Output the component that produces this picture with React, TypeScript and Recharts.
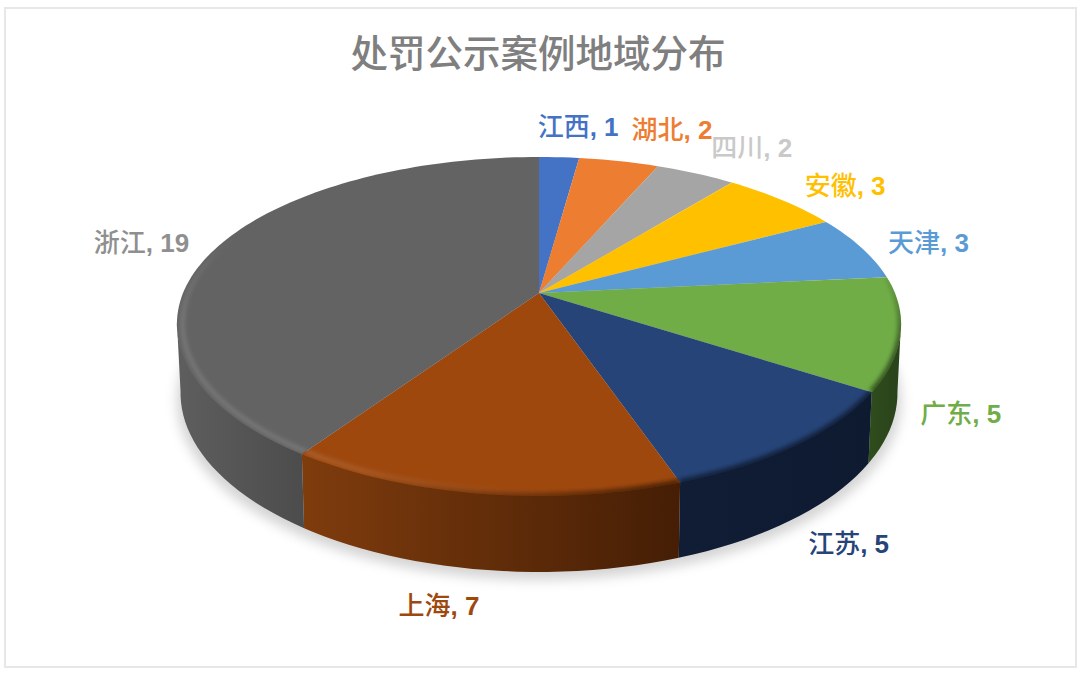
import React from "react";
import { PieChart, Pie } from "recharts";

const provinces = ["江西", "湖北", "四川", "安徽", "天津", "广东", "江苏", "上海", "浙江"];
const cases = [1, 2, 2, 3, 3, 5, 5, 7, 19];
const topColors = ["#4472c4", "#ed7d31", "#a5a5a5", "#ffc000", "#5b9bd5", "#70ad47", "#264478", "#9e480e", "#636363"];
const labelColors = ["#4472c4", "#ed7d31", "#c9c9c9", "#ffc000", "#5b9bd5", "#70ad47", "#264478", "#9e480e", "#8f8f8f"];
const wallFrom = ["#2a4a80", "#9a5020", "#6a6a6a", "#a57c00", "#3b6488", "#2f4d1d", "#101d35", "#7f3c0d", "#5e5e5e"];
const wallTo = ["#2a4a80", "#9a5020", "#6a6a6a", "#a57c00", "#3b6488", "#29421a", "#0d1a30", "#451e05", "#4c4c4c"];
const labelNudgeX = [19, 53, 56, 63, 67, 60, 52, -42, -75];
const labelNudgeY = [-30, -31, -25, -14, -5, 82, 104, 118, -5];

const chartData = provinces.map((name, i) => ({ name, value: cases[i] }));

const PERSPECTIVE = 0.183;
const FLATTEN = 0.452;
const DEPTH = 67;
const BEVEL = 6;
const FONT = '"Liberation Sans", "Noto Sans CJK SC", sans-serif';

// t: degrees clockwise from 12 o'clock. Maps the flat pie circle to the tilted disc.
function project(cx: number, cy: number, R: number, t: number, r = 1) {
  const a = (t * Math.PI) / 180;
  const u = Math.sin(a) * r;
  const w = Math.cos(a) * r;
  const den = 1 + PERSPECTIVE * w;
  return { x: cx + (R * u) / den, y: cy - (R * FLATTEN * w) / den, den };
}
// The rounded front edge of the top face reaches a little lower than the flat disc.
function rim(cx: number, cy: number, R: number, t: number, r = 1) {
  const p = project(cx, cy, R, t, r);
  const w = Math.cos((t * Math.PI) / 180);
  return { x: p.x, y: p.y + BEVEL * Math.max(0, -w) };
}
function lower(cx: number, cy: number, R: number, t: number, squeeze = 0.99) {
  const p = project(cx, cy, R, t);
  return { x: cx + (p.x - cx) * squeeze, y: p.y + DEPTH / p.den };
}
function sweep(a: number, b: number, step = 2) {
  const list: number[] = [];
  for (let t = a; t < b; t += step) list.push(t);
  list.push(b);
  return list;
}
const toT = (angle: number) => 90 - angle;

function ShadowSlice(props: any) {
  const { cx, cy, outerRadius: R, startAngle, endAngle } = props;
  const pts = sweep(toT(startAngle), toT(endAngle)).map((t) => lower(cx, cy, R, t, 1));
  const d = `M${cx},${cy + DEPTH} ` + pts.map((p) => `L${p.x},${p.y + 8}`).join(" ") + " Z";
  return <path d={d} fill="#000" fillOpacity={0.17} filter="url(#softShadow)" />;
}

function WallSlice(props: any) {
  const { cx, cy, outerRadius: R, startAngle, endAngle, index } = props;
  const a = Math.max(toT(startAngle), 100);
  const b = Math.min(toT(endAngle), 260);
  if (a >= b) return <g />;
  const ts = sweep(a, b);
  const top = ts.map((t) => project(cx, cy, R, t));
  const bot = ts.map((t) => lower(cx, cy, R, t)).reverse();
  const d = "M" + [...top, ...bot].map((p) => `${p.x},${p.y}`).join(" L") + " Z";
  const id = `wall${index}`;
  return (
    <g>
      <defs>
        <linearGradient id={id} x1="0" y1="0" x2="1" y2="0">
          <stop offset="0" stopColor={wallFrom[index]} />
          <stop offset="1" stopColor={wallTo[index]} />
        </linearGradient>
      </defs>
      <path d={d} fill={`url(#${id})`} />
    </g>
  );
}

function darkTone(t: number) {
  if (t < 80 || t > 205) return 0;
  if (t < 110) return (0.5 * (t - 80)) / 30;
  if (t < 165) return 0.5;
  return 0.5 * (1 - (t - 165) / 40);
}
function lightTone(t: number) {
  if (t < 175 || t > 292) return 0;
  if (t < 215) return (0.17 * (t - 175)) / 40;
  if (t < 262) return 0.17;
  return (0.17 * (292 - t)) / 30;
}

function TopSlice(props: any) {
  const { cx, cy, outerRadius: R, startAngle, endAngle, index } = props;
  const ts = sweep(toT(startAngle), toT(endAngle), 1.5);
  const pts = ts.map((t) => rim(cx, cy, R, t));
  const d = `M${cx},${cy} ` + pts.map((p) => `L${p.x},${p.y}`).join(" ") + " Z";
  const dark: React.ReactNode[] = [];
  const light: React.ReactNode[] = [];
  for (let i = 0; i + 1 < ts.length; i++) {
    const mid = (ts[i] + ts[i + 1]) / 2;
    const dk = darkTone(mid);
    const lt = lightTone(mid);
    if (dk > 0) {
      const p = rim(cx, cy, R, ts[i]);
      const q = rim(cx, cy, R, ts[i + 1]);
      dark.push(<line key={i} x1={p.x} y1={p.y} x2={q.x} y2={q.y} stroke="#000" strokeOpacity={dk} strokeWidth={7} />);
    }
    if (lt > 0) {
      const p = rim(cx, cy, R, ts[i], 0.985);
      const q = rim(cx, cy, R, ts[i + 1], 0.985);
      light.push(<line key={i} x1={p.x} y1={p.y} x2={q.x} y2={q.y} stroke="#fff" strokeOpacity={lt} strokeWidth={3.5} />);
    }
  }
  const clipId = `topClip${index}`;
  return (
    <g>
      <defs>
        <clipPath id={clipId}>
          <path d={d} />
        </clipPath>
      </defs>
      <path d={d} fill={topColors[index]} />
      <g clipPath={`url(#${clipId})`}>
        <g filter="url(#softRim)">{dark}</g>
        <g filter="url(#softRim)">{light}</g>
      </g>
    </g>
  );
}

function SliceLabel(props: any) {
  const { cx, cy, outerRadius: R, midAngle, index } = props;
  const p = project(cx, cy, R, toT(midAngle));
  return (
    <text
      x={p.x + labelNudgeX[index]}
      y={p.y + labelNudgeY[index]}
      textAnchor="middle"
      dominantBaseline="central"
      fill={labelColors[index]}
      fontFamily={FONT}
      fontSize={26}
      fontWeight={500}
    >
      {provinces[index]}
      <tspan fontWeight={700}>{`, ${cases[index]}`}</tspan>
    </text>
  );
}

const pieBase = {
  data: chartData,
  dataKey: "value",
  nameKey: "name",
  cx: 539,
  cy: 293,
  innerRadius: 0,
  outerRadius: 356,
  startAngle: 90,
  endAngle: -270,
  stroke: "none",
  isAnimationActive: false,
  labelLine: false,
};

export default function App() {
  return (
    <div style={{ position: "absolute", left: 0, top: 0, width: 1080, height: 674, background: "#fff", overflow: "hidden" }}>
      <div
        style={{
          position: "absolute",
          left: 4,
          top: 7,
          width: 1069,
          height: 657,
          border: "2px solid #e7e7e7",
        }}
      />
      <div
        style={{
          position: "absolute",
          left: 0,
          right: 0,
          top: 31,
          textAlign: "center",
          fontFamily: FONT,
          fontSize: 37.5,
          lineHeight: "46px",
          fontWeight: 500,
          color: "#7f7f7f",
          transform: "translateX(-2px)",
        }}
      >
        处罚公示案例地域分布
      </div>
      <div style={{ position: "absolute", left: 0, top: 0 }}>
        <PieChart width={1080} height={674} margin={{ top: 0, right: 0, bottom: 0, left: 0 }}>
          <defs>
            <filter id="softShadow" x="-20%" y="-20%" width="140%" height="140%">
              <feGaussianBlur stdDeviation="6" />
            </filter>
            <filter id="softRim" filterUnits="userSpaceOnUse" x="0" y="0" width="1080" height="674">
              <feGaussianBlur stdDeviation="2" />
            </filter>
          </defs>
          <Pie {...pieBase} shape={ShadowSlice} />
          <Pie {...pieBase} shape={WallSlice} />
          <Pie {...pieBase} shape={TopSlice} label={SliceLabel} />
        </PieChart>
      </div>
    </div>
  );
}
